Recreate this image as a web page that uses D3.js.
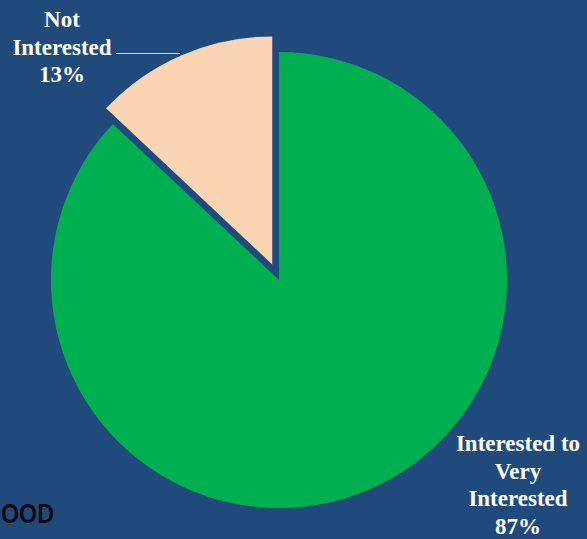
<!doctype html>
<html lang="en">
<head>
  <meta charset="UTF-8" />
  <script src="https://cdn.jsdelivr.net/npm/d3@7"></script>
  <style>
    body { margin: 0; background: #214A7C; }
    svg { display: block; }
    .lbl {
      font-family: "Liberation Serif", "Times New Roman", serif;
      font-weight: bold;
      font-size: 23px;
      fill: white;
      text-anchor: middle;
    }
  </style>
  <title>Interest</title>
</head>
<body>
  <script>
    var categories = ["Interested to Very Interested", "Not Interested"];
    var values = [87, 13];
    var colors = ["#00B050", "#FBD4B4"];
    var exploded = [false, true];
    var labelLines = [
      ["Interested to", "Very", "Interested", "87%"],
      ["Not", "Interested", "13%"]
    ];

    var width = 587, height = 539;
    var cx = 279, cy = 280, radius = 228, pull = 17;

    var svg = d3.select("body").append("svg")
      .attr("width", width).attr("height", height);

    svg.append("rect")
      .attr("width", width).attr("height", height)
      .attr("fill", "#214A7C");

    var pie = d3.pie().sort(null).value(function (d) { return d; });
    var arcs = pie(values);
    var arc = d3.arc().innerRadius(0).outerRadius(radius);

    var g = svg.append("g").attr("transform", "translate(" + cx + "," + cy + ")");

    g.selectAll("path").data(arcs).enter().append("path")
      .attr("d", arc)
      .attr("fill", function (d, i) { return colors[i]; })
      .attr("transform", function (d, i) {
        if (!exploded[i]) return null;
        var a = (d.startAngle + d.endAngle) / 2;
        return "translate(" + (Math.sin(a) * pull) + "," + (-Math.cos(a) * pull) + ")";
      });

    // label positions (centre x, first baseline)
    var labelPos = [[518, 451], [62, 27]];
    var lineGap = 27.5;

    labelLines.forEach(function (lines, i) {
      var t = svg.append("text").attr("class", "lbl")
        .attr("x", labelPos[i][0]).attr("y", labelPos[i][1]);
      t.selectAll("tspan").data(lines).enter().append("tspan")
        .attr("x", labelPos[i][0])
        .attr("dy", function (d, j) { return j === 0 ? 0 : lineGap; })
        .text(function (d) { return d; });
    });

    // leader line for the small slice
    svg.append("line")
      .attr("x1", 116).attr("y1", 53.5)
      .attr("x2", 180).attr("y2", 53.5)
      .attr("stroke", "#D9D9D9").attr("stroke-width", 1.2);

    // logo in the corner
    svg.append("text")
      .attr("x", 1).attr("y", 523)
      .attr("font-family", "'Liberation Sans', Arial, sans-serif")
      .attr("font-weight", "bold")
      .attr("font-size", 27)
      .attr("fill", "#0A0A14")
      .attr("textLength", 53)
      .attr("lengthAdjust", "spacingAndGlyphs")
      .text("OOD");
  </script>
</body>
</html>
